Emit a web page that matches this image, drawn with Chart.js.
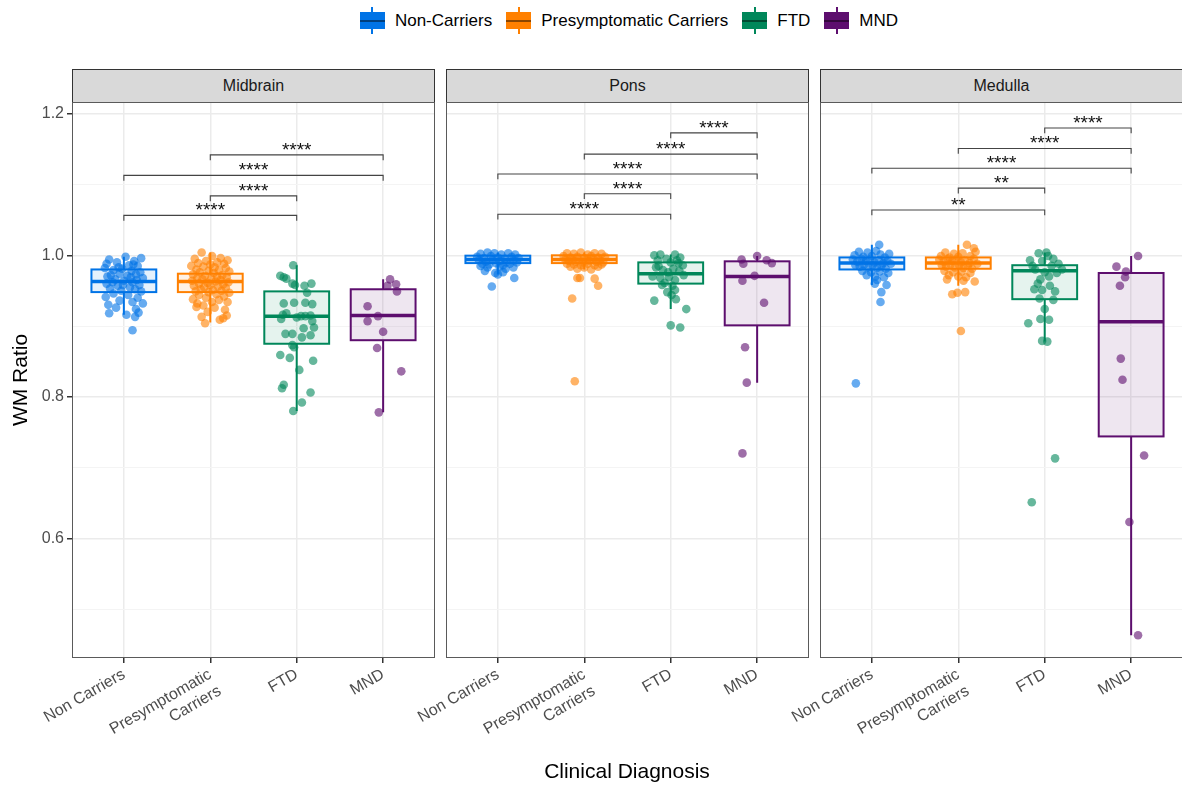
<!DOCTYPE html>
<html>
<head>
<meta charset="utf-8">
<script src="https://cdn.jsdelivr.net/npm/chart.js@4.4.1/dist/chart.umd.min.js"></script>
<style>
  body { margin: 0; background: #fff; font-family: "Liberation Sans", Arial, sans-serif; }
  #wrap { position: relative; width: 1182px; height: 787px; overflow: hidden; }
  #wrap canvas.panel { position: absolute; top: 90px; }
  .strip { position: absolute; top: 69px; height: 34px; width: 363px; box-sizing: border-box;
           background: #d9d9d9; border: 1px solid #333; font-size: 16px; color: #1a1a1a;
           display: flex; align-items: center; justify-content: center; }
  #legend { position: absolute; left: 72px; width: 1110px; top: 4px; height: 33px;
            display: flex; justify-content: center; align-items: center; font-size: 17px; color: #000; }
  .item { display: flex; align-items: center; margin: 0 5px; }
  .key { position: relative; width: 33px; height: 33px; margin-right: 6px; }
  .key .wh { position: absolute; left: 15.5px; width: 2px; top: 3px; height: 27px; }
  .key .bx { position: absolute; left: 4px; width: 25px; top: 8px; height: 17px; box-sizing: border-box; }
  .key .md { position: absolute; left: 4px; width: 25px; top: 15.5px; height: 2px; background: rgba(0,0,0,0.45); }
  #xtitle { position: absolute; left: 72px; width: 1110px; top: 759px; text-align: center; font-size: 21px; color: #000; }
</style>
</head>
<body>
<div id="wrap">
  <div id="legend"></div>
  <div class="strip" style="left:72px">Midbrain</div>
  <div class="strip" style="left:446px">Pons</div>
  <div class="strip" style="left:820px">Medulla</div>
  <canvas class="panel" id="p0" width="436" height="697" style="left:0px"></canvas>
  <canvas class="panel" id="p1" width="436" height="697" style="left:374px"></canvas>
  <canvas class="panel" id="p2" width="436" height="697" style="left:748px"></canvas>
  <div id="xtitle">Clinical Diagnosis</div>
</div>
<script>
// groups and colours
const legendNames = ['Non-Carriers', 'Presymptomatic Carriers', 'FTD', 'MND'];
const groupLabels = ['Non Carriers', ['Presymptomatic', 'Carriers'], 'FTD', 'MND'];
const colors = ['#0073E6', '#FF8000', '#00875A', '#5D0E6E'];
const panelNames = ['Midbrain', 'Pons', 'Medulla'];
const yTicks = [0.5, 0.6, 0.7, 0.8, 0.9, 1.0, 1.1, 1.2];

// jittered points: [offset from category, WM ratio]
const midNC = [[-0.17,0.994],[0.02,0.998],[0.20,0.996],[-0.08,0.990],[0.12,0.992],[-0.20,0.988],[0.06,0.986],[0.16,0.985],
  [-0.22,0.982],[-0.12,0.979],[-0.02,0.981],[0.09,0.978],[0.19,0.976],[-0.15,0.972],[-0.05,0.974],[0.04,0.971],[0.14,0.973],
  [-0.19,0.970],[0.22,0.968],[-0.10,0.966],[0.00,0.964],[0.10,0.962],[-0.20,0.960],[0.18,0.958],[-0.07,0.957],[0.07,0.955],
  [-0.16,0.953],[0.13,0.952],[-0.03,0.950],[0.20,0.949],[-0.12,0.946],[0.05,0.944],[-0.21,0.941],[0.16,0.940],[-0.05,0.936],
  [0.10,0.934],[-0.18,0.930],[0.22,0.932],[-0.09,0.926],[0.14,0.924],[-0.17,0.918],[0.17,0.919],[0.13,0.913],[0.03,0.916],
  [0.10,0.894],[-0.13,0.962],[0.08,0.969],[-0.01,0.958],[0.15,0.965],[-0.06,0.983],[0.11,0.987]];
const midPC = [[-0.10,1.004],[0.02,0.999],[0.12,0.996],[-0.18,0.995],[0.20,0.993],[-0.05,0.992],[0.08,0.990],[-0.14,0.989],
  [0.16,0.988],[0.00,0.987],[-0.22,0.985],[-0.08,0.984],[0.05,0.983],[0.18,0.982],[-0.16,0.980],[0.10,0.979],[-0.02,0.978],
  [0.22,0.977],[-0.12,0.976],[0.04,0.975],[-0.20,0.973],[0.14,0.972],[-0.06,0.971],[0.08,0.970],[0.19,0.969],[-0.15,0.968],
  [0.01,0.967],[-0.09,0.966],[0.12,0.965],[-0.21,0.964],[0.06,0.963],[0.21,0.962],[-0.03,0.961],[-0.13,0.960],[0.15,0.959],
  [0.00,0.958],[-0.19,0.957],[0.09,0.956],[-0.07,0.955],[0.18,0.954],[-0.11,0.952],[0.03,0.951],[0.13,0.950],[-0.17,0.949],
  [-0.02,0.948],[0.22,0.947],[0.07,0.945],[-0.13,0.944],[0.16,0.942],[-0.05,0.940],[-0.20,0.938],[0.10,0.937],[0.02,0.934],
  [-0.15,0.932],[0.20,0.934],[-0.08,0.929],[0.05,0.926],[-0.16,0.927],[0.17,0.923],[-0.03,0.920],[-0.10,0.913],[-0.06,0.904],
  [0.11,0.909],[0.15,0.911],[0.19,0.915]];
const midFTD = [[-0.04,0.986],[-0.19,0.971],[-0.15,0.969],[-0.12,0.967],[-0.05,0.960],[-0.02,0.958],[0.09,0.957],[0.17,0.960],
  [0.12,0.947],[-0.15,0.932],[-0.03,0.933],[0.10,0.933],[0.18,0.931],[-0.12,0.918],[-0.18,0.910],[0.05,0.914],[0.10,0.914],
  [0.16,0.915],[0.18,0.907],[0.20,0.898],[0.08,0.897],[0.06,0.884],[-0.13,0.889],[-0.05,0.889],[0.16,0.887],[-0.05,0.873],
  [-0.03,0.870],[-0.19,0.859],[-0.08,0.855],[0.19,0.851],[0.03,0.838],[-0.15,0.817],[-0.17,0.812],[0.16,0.806],[-0.04,0.780],
  [0.06,0.792],[-0.16,0.916],[0.00,0.912]];
const midMND = [[0.08,0.966],[0.15,0.959],[0.16,0.949],[0.05,0.957],[-0.18,0.928],[-0.06,0.914],[-0.18,0.907],[0.00,0.892],
  [-0.07,0.869],[0.21,0.836],[-0.05,0.778]];

const ponsNC = [[-0.24,0.998],[-0.20,1.002],[-0.16,0.996],[-0.12,1.004],[-0.08,0.999],[-0.04,1.003],[0.00,0.997],[0.04,1.001],
  [0.08,0.995],[0.12,1.003],[0.16,0.998],[0.20,1.001],[0.24,0.996],[-0.22,0.993],[-0.14,0.991],[-0.06,0.994],[0.02,0.992],
  [0.10,0.990],[0.18,0.993],[-0.18,0.988],[-0.10,0.987],[-0.02,0.989],[0.06,0.986],[0.14,0.988],[0.22,0.990],[-0.15,0.978],
  [0.00,0.973],[0.18,0.983],[0.19,0.968],[-0.07,0.956],[0.06,0.976],[-0.03,0.975],[-0.12,0.983],[0.09,0.981],[-0.20,0.985],
  [0.02,0.984]];
const ponsPC = [[-0.24,0.999],[-0.20,1.003],[-0.16,0.997],[-0.12,1.002],[-0.08,0.998],[-0.04,1.004],[0.00,0.996],[0.04,1.001],
  [0.08,0.999],[0.12,1.003],[0.16,0.997],[0.20,1.002],[0.24,0.998],[-0.22,0.994],[-0.18,0.992],[-0.14,0.995],[-0.10,0.991],
  [-0.06,0.993],[-0.02,0.990],[0.02,0.994],[0.06,0.992],[0.10,0.995],[0.14,0.991],[0.18,0.993],[0.22,0.990],[-0.20,0.988],
  [-0.12,0.987],[-0.04,0.986],[0.04,0.988],[0.12,0.986],[0.20,0.987],[-0.16,0.984],[0.00,0.983],[0.16,0.984],[-0.08,0.981],
  [0.08,0.980],[-0.08,0.968],[-0.05,0.968],[0.12,0.967],[0.16,0.957],[-0.14,0.939],[-0.11,0.822]];
const ponsFTD = [[-0.19,1.000],[-0.12,1.001],[0.05,1.001],[0.11,0.997],[-0.15,0.993],[-0.05,0.995],[0.00,0.990],[0.14,0.986],
  [-0.17,0.983],[-0.09,0.979],[0.03,0.981],[-0.21,0.970],[-0.12,0.968],[-0.02,0.969],[0.05,0.965],[-0.10,0.958],[-0.07,0.961],
  [0.05,0.951],[0.01,0.944],[-0.19,0.936],[0.18,0.924],[0.00,0.901],[0.11,0.898],[0.09,0.989],[-0.03,0.976],[0.15,0.972],
  [0.10,0.978],[-0.14,0.985],[0.07,0.993],[0.02,0.957],[0.06,0.938],[-0.04,0.948]];
const ponsMND = [[-0.18,0.994],[-0.16,0.988],[0.00,0.999],[0.11,0.993],[0.17,0.989],[-0.17,0.964],[-0.03,0.971],[0.08,0.933],
  [-0.14,0.870],[-0.12,0.820],[-0.17,0.720]];

const medNC = [[-0.20,1.000],[-0.15,1.005],[-0.10,0.998],[-0.05,1.004],[0.00,0.999],[0.05,1.006],[0.10,1.001],[0.085,1.015],
  [0.15,0.997],[0.20,1.002],[-0.22,0.994],[-0.17,0.991],[-0.12,0.995],[-0.07,0.992],[-0.02,0.994],[0.03,0.990],[0.08,0.993],
  [0.13,0.989],[0.18,0.992],[0.22,0.988],[-0.19,0.986],[-0.14,0.984],[-0.09,0.987],[-0.04,0.983],[0.01,0.986],[0.06,0.982],
  [0.11,0.985],[0.16,0.981],[-0.11,0.978],[-0.01,0.976],[0.09,0.977],[0.19,0.975],[-0.06,0.972],[0.04,0.970],[0.14,0.969],
  [0.06,0.965],[0.035,0.960],[0.17,0.958],[0.11,0.948],[0.10,0.934],[-0.185,0.819]];
const medPC = [[-0.20,0.999],[-0.15,1.004],[-0.10,0.997],[-0.05,1.002],[0.00,0.998],[0.05,1.003],[0.10,1.015],[0.18,1.010],
  [0.20,1.005],[0.14,0.999],[-0.22,0.994],[-0.17,0.991],[-0.12,0.995],[-0.07,0.992],[-0.02,0.994],[0.03,0.990],[0.08,0.993],
  [0.13,0.989],[0.18,0.995],[0.22,0.988],[-0.19,0.986],[-0.14,0.984],[-0.09,0.987],[-0.04,0.983],[0.01,0.986],[0.06,0.982],
  [0.11,0.985],[0.16,0.981],[-0.16,0.978],[-0.06,0.976],[0.04,0.977],[0.14,0.975],[-0.11,0.972],[0.00,0.970],[0.09,0.969],
  [-0.13,0.966],[0.06,0.964],[0.19,0.963],[0.08,0.948],[-0.01,0.947],[-0.07,0.945],[0.03,0.893]];
const medFTD = [[-0.07,1.003],[0.02,1.004],[0.04,0.999],[-0.17,0.993],[-0.03,0.992],[0.16,0.988],[-0.14,0.985],[0.08,0.985],
  [-0.11,0.980],[0.20,0.980],[0.00,0.976],[0.14,0.975],[-0.08,0.960],[0.06,0.957],[-0.12,0.952],[-0.03,0.951],[0.12,0.949],
  [-0.06,0.939],[0.10,0.937],[0.00,0.924],[-0.05,0.910],[0.05,0.909],[-0.19,0.904],[-0.03,0.879],[0.03,0.878],[0.12,0.713],
  [-0.15,0.651],[0.05,0.970],[-0.05,0.966],[0.10,0.995]];
const medMND = [[0.08,0.999],[-0.17,0.984],[-0.06,0.977],[-0.07,0.969],[-0.13,0.957],[-0.12,0.854],[-0.10,0.824],[0.15,0.717],
  [-0.02,0.623],[0.08,0.463]];

// box stats per group: [lower whisker, q1, median, q3, upper whisker]
const midBoxes = [[0.916,0.948,0.963,0.980,0.998],[0.905,0.948,0.963,0.974,1.004],[0.780,0.875,0.914,0.949,0.986],[0.778,0.880,0.915,0.952,0.966]];
const ponsBoxes = [[0.973,0.989,0.994,0.9995,1.004],[0.980,0.989,0.994,1.000,1.004],[0.924,0.960,0.974,0.990,1.001],[0.820,0.901,0.970,0.9915,0.999]];
const medBoxes = [[0.958,0.980,0.989,0.997,1.015],[0.957,0.981,0.989,0.997,1.015],[0.878,0.938,0.978,0.986,1.004],[0.463,0.744,0.906,0.975,0.999]];

// significance brackets: [from group, to group, height, label]
const midSig = [[1,3,1.0565,'****'],[2,3,1.084,'****'],[1,4,1.113,'****'],[2,4,1.142,'****']];
const ponsSig = [[1,3,1.058,'****'],[2,3,1.087,'****'],[1,4,1.115,'****'],[2,4,1.143,'****'],[3,4,1.173,'****']];
const medSig = [[1,3,1.064,'**'],[2,3,1.095,'**'],[1,4,1.123,'****'],[2,4,1.151,'****'],[3,4,1.180,'****']];

const panels = [
  { points: [midNC, midPC, midFTD, midMND], boxes: midBoxes, sig: midSig },
  { points: [ponsNC, ponsPC, ponsFTD, ponsMND], boxes: ponsBoxes, sig: ponsSig },
  { points: [medNC, medPC, medFTD, medMND], boxes: medBoxes, sig: medSig }
];

const FONT = '"Liberation Sans", Arial, sans-serif';
const boxHalf = 0.375;

function rgba(hex, a) {
  const n = parseInt(hex.slice(1), 16);
  return 'rgba(' + (n >> 16) + ',' + ((n >> 8) & 255) + ',' + (n & 255) + ',' + a + ')';
}
function isMajor(v) { return Math.round(v * 10) % 2 === 0; }

// legend
const legend = document.getElementById('legend');
legendNames.forEach((name, i) => {
  const item = document.createElement('div');
  item.className = 'item';
  item.innerHTML = '<div class="key"><div class="wh" style="background:' + colors[i] + '"></div>' +
    '<div class="bx" style="background:' + colors[i] + ';border:1.5px solid ' + colors[i] + '"></div><div class="md"></div></div>' +
    '<span>' + name + '</span>';
  legend.appendChild(item);
});

function panelPlugin(panel) {
  return {
    id: 'panelDeco',
    beforeDatasetsDraw(chart) {
      const { ctx, scales: { x, y } } = chart;
      ctx.save();
      panel.boxes.forEach((s, g) => {
        const cx = x.getPixelForValue(g + 1);
        const l = x.getPixelForValue(g + 1 - boxHalf);
        const r = x.getPixelForValue(g + 1 + boxHalf);
        const [lo, q1, med, q3, hi] = s.map(v => y.getPixelForValue(v));
        ctx.strokeStyle = colors[g];
        ctx.lineWidth = 2;
        ctx.beginPath();
        ctx.moveTo(cx, hi); ctx.lineTo(cx, q3);
        ctx.moveTo(cx, q1); ctx.lineTo(cx, lo);
        ctx.stroke();
        ctx.fillStyle = rgba(colors[g], 0.1);
        ctx.fillRect(l, q3, r - l, q1 - q3);
        ctx.strokeRect(l, q3, r - l, q1 - q3);
        ctx.lineWidth = 3.5;
        ctx.beginPath(); ctx.moveTo(l, med); ctx.lineTo(r, med); ctx.stroke();
      });
      ctx.restore();
    },
    afterDatasetsDraw(chart) {
      const { ctx, chartArea, scales: { x, y } } = chart;
      ctx.save();
      ctx.strokeStyle = '#444';
      ctx.lineWidth = 1.1;
      ctx.fillStyle = '#111';
      ctx.font = '19px ' + FONT;
      ctx.textAlign = 'center';
      ctx.textBaseline = 'alphabetic';
      panel.sig.forEach(([a, b, h, label]) => {
        const xa = x.getPixelForValue(a), xb = x.getPixelForValue(b);
        const yh = y.getPixelForValue(h), yt = y.getPixelForValue(h - 0.0075);
        ctx.beginPath();
        ctx.moveTo(xa, yt); ctx.lineTo(xa, yh); ctx.lineTo(xb, yh); ctx.lineTo(xb, yt);
        ctx.stroke();
        ctx.fillText(label, (xa + xb) / 2, yh + 1);
      });
      ctx.strokeStyle = '#5a5a5a';
      ctx.lineWidth = 1;
      ctx.strokeRect(chartArea.left + 0.5, chartArea.top + 0.5, chartArea.right - chartArea.left - 1, chartArea.bottom - chartArea.top - 1);
      ctx.restore();
    }
  };
}

panels.forEach((panel, p) => {
  const datasets = panel.points.map((pts, g) => ({
    label: legendNames[g],
    data: pts.map(d => ({ x: g + 1 + d[0], y: d[1] })),
    backgroundColor: rgba(colors[g], 0.6),
    borderWidth: 0,
    pointRadius: 4.3,
    pointHoverRadius: 4.3
  }));
  new Chart(document.getElementById('p' + p), {
    type: 'scatter',
    data: { datasets },
    plugins: [panelPlugin(panel)],
    options: {
      responsive: false,
      animation: false,
      events: [],
      layout: { autoPadding: false, padding: { top: 12, right: 1, bottom: 0, left: 0 } },
      plugins: { legend: { display: false }, tooltip: { enabled: false } },
      scales: {
        x: {
          type: 'linear', min: 0.4, max: 4.6,
          afterBuildTicks: s => { s.ticks = [1, 2, 3, 4].map(v => ({ value: v })); },
          afterFit: s => { s.height = 129; s.paddingLeft = 0; s.paddingRight = 0; },
          ticks: {
            autoSkip: false, minRotation: 30, maxRotation: 30, padding: 2,
            color: '#4d4d4d', font: { family: FONT, size: 16 },
            callback: v => groupLabels[Math.round(v) - 1]
          },
          grid: { color: '#ebebeb', lineWidth: 1.5, tickLength: 5, tickColor: '#333' },
          border: { display: false }
        },
        y: {
          type: 'linear', min: 0.4308, max: 1.2167,
          afterBuildTicks: s => { s.ticks = yTicks.map(v => ({ value: v })); },
          afterFit: s => { s.width = 72; s.paddingTop = 0; s.paddingBottom = 0; },
          ticks: {
            display: p === 0, autoSkip: false, padding: 3,
            color: '#4d4d4d', font: { family: FONT, size: 16 },
            callback: v => isMajor(v) ? v.toFixed(1) : ''
          },
          grid: {
            color: c => isMajor(c.tick.value) ? '#ebebeb' : '#f4f4f4',
            lineWidth: c => isMajor(c.tick.value) ? 1.5 : 1,
            drawTicks: p === 0, tickLength: 5,
            tickColor: c => isMajor(c.tick.value) ? '#333' : 'rgba(0,0,0,0)'
          },
          border: { display: false },
          title: {
            display: p === 0, text: 'WM Ratio', color: '#000',
            font: { family: FONT, size: 21 }, padding: { top: 9, bottom: 0 }
          }
        }
      }
    }
  });
});
</script>
</body>
</html>
